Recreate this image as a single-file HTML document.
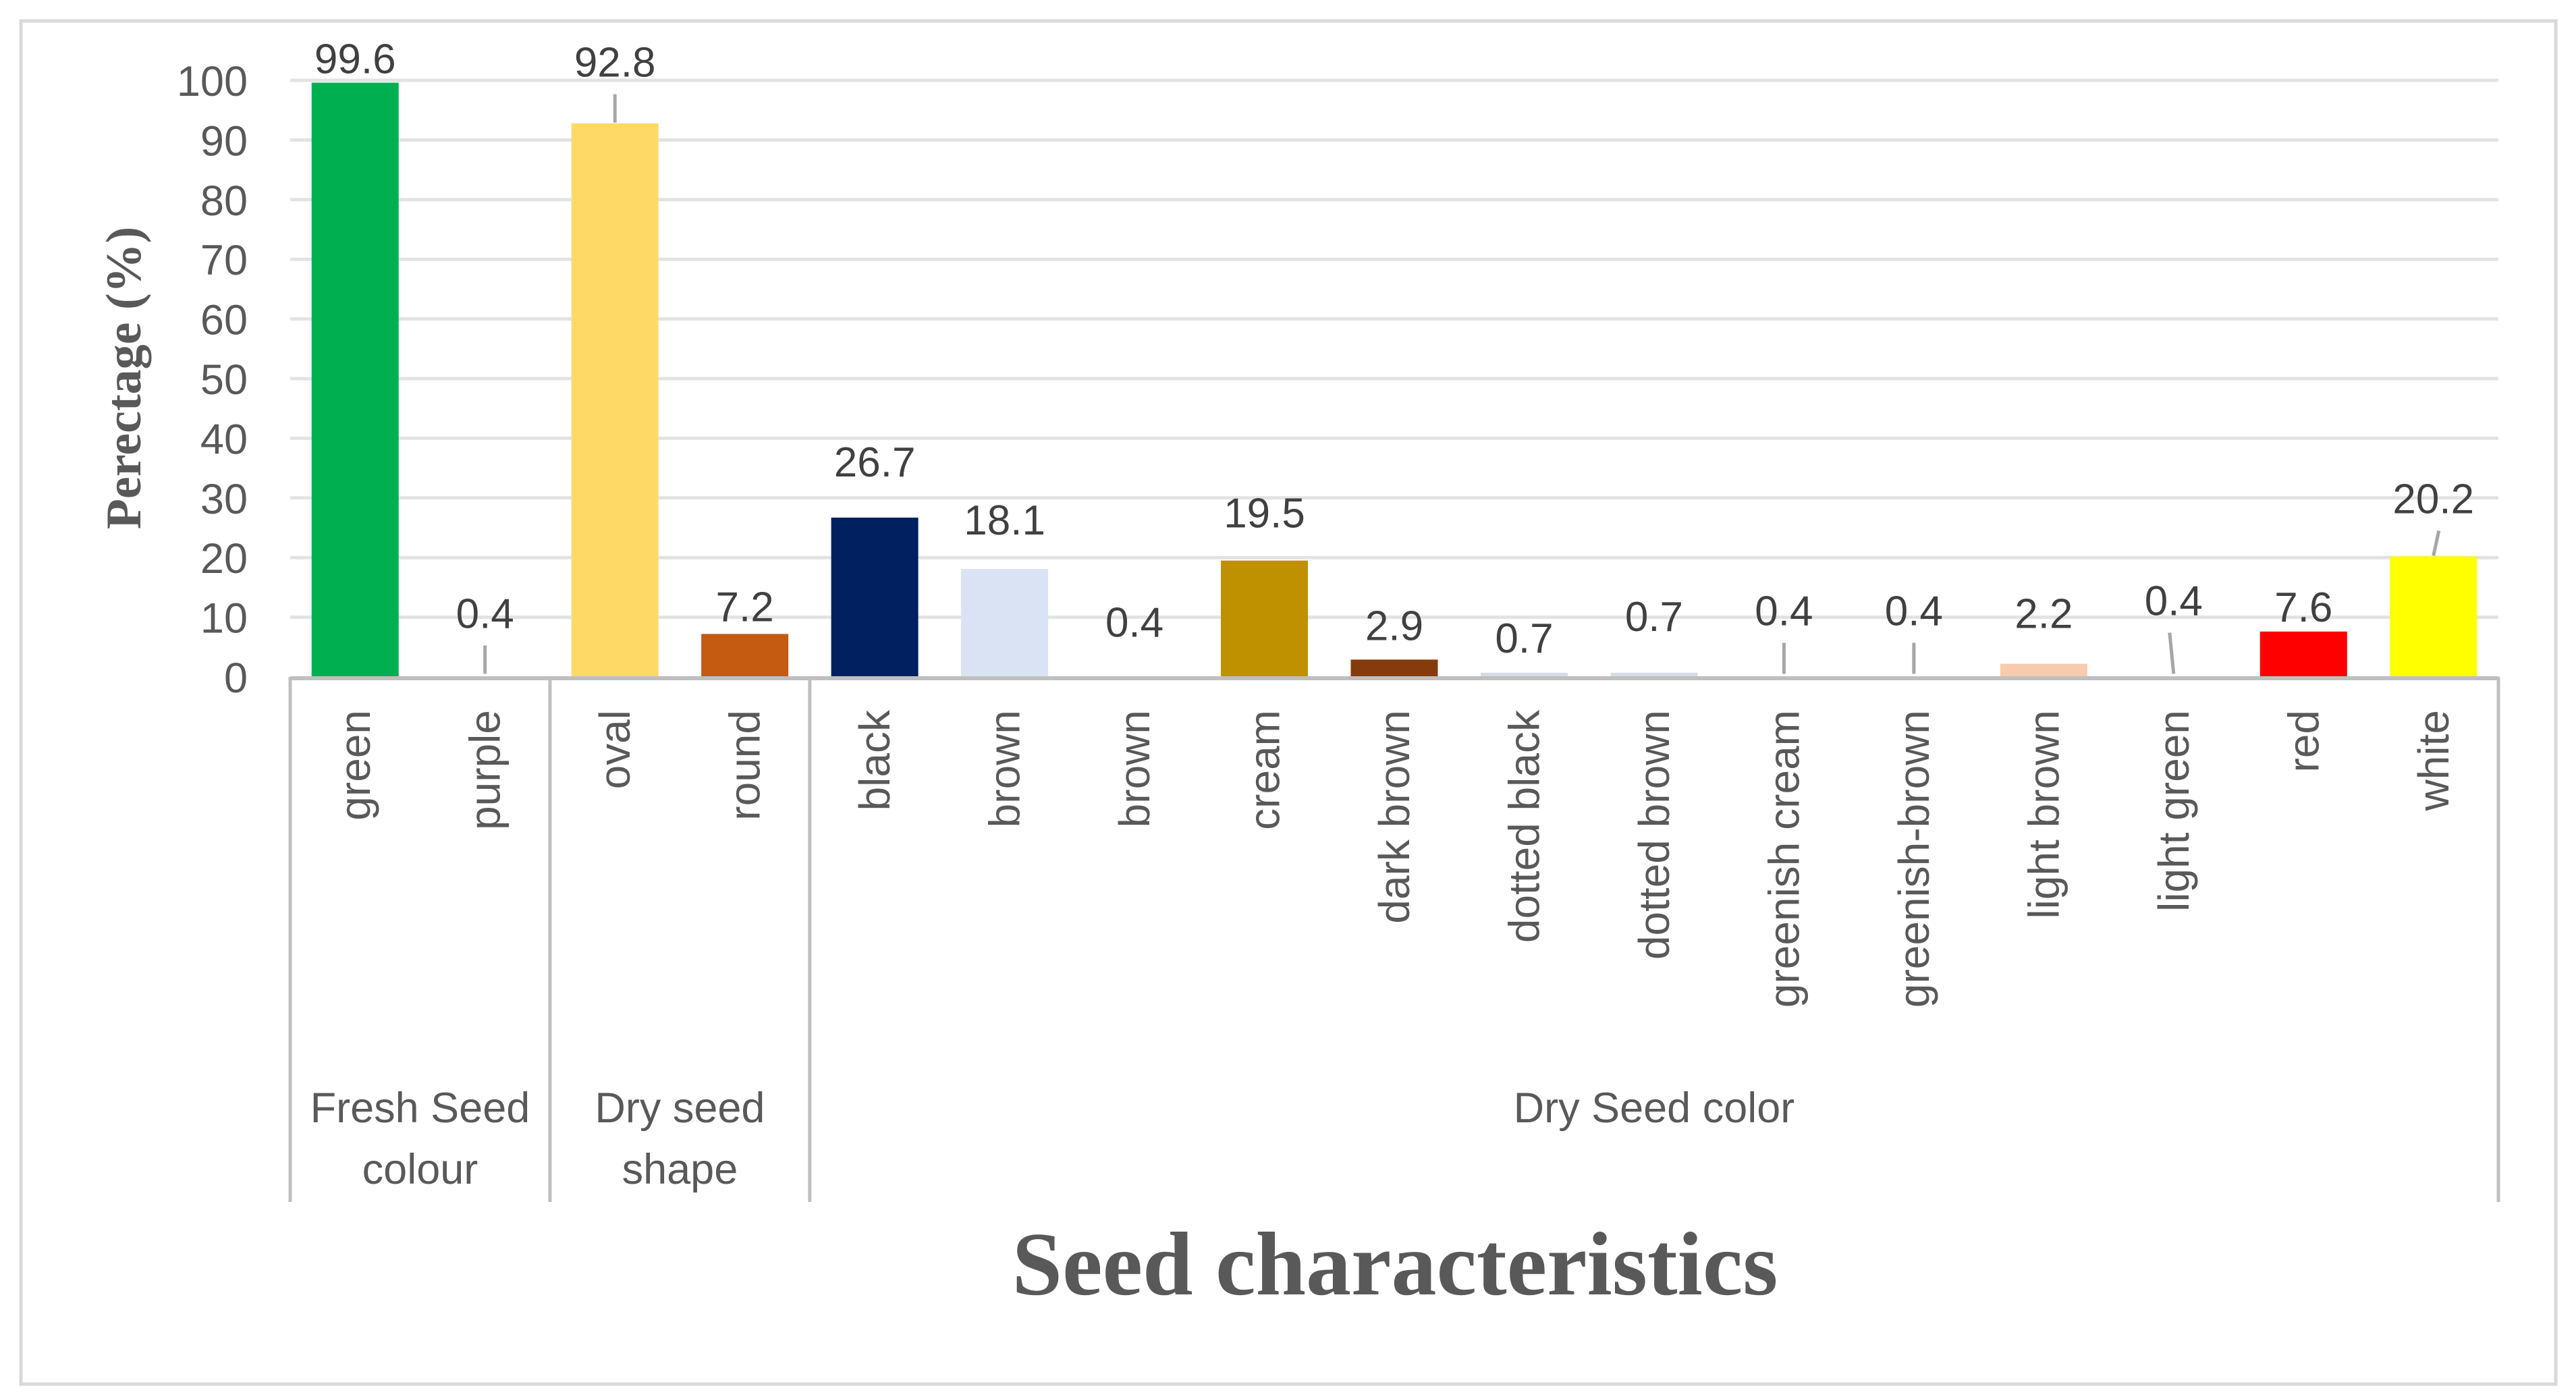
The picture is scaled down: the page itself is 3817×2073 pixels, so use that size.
<!DOCTYPE html>
<html><head><meta charset="utf-8"><style>
html,body{margin:0;padding:0;background:#fff;}
svg{display:block;}
</style></head><body>
<svg id="chart" width="3817" height="2073" viewBox="0 0 3817 2073" xmlns="http://www.w3.org/2000/svg">
<rect x="31" y="31" width="3756" height="2020" fill="#fff" stroke="#d9d9d9" stroke-width="5"/>
<g id="grid"></g><g id="bars"></g><g id="labels"></g><g id="axis"></g>
<text transform="translate(208,560) rotate(-90)" text-anchor="middle" font-family="Liberation Serif, serif" font-weight="bold" font-size="74" fill="#595959">Perectage (%)</text>
<text x="2067" y="1918" text-anchor="middle" font-family="Liberation Serif, serif" font-weight="bold" font-size="134" fill="#595959">Seed characteristics</text>
</svg>
<script>
const categories = ["green","purple","oval","round","black","brown","brown","cream","dark brown","dotted black","dotted brown","greenish cream","greenish-brown","light brown","light green","red","white"];
const values = [99.6,0.4,92.8,7.2,26.7,18.1,0.4,19.5,2.9,0.7,0.7,0.4,0.4,2.2,0.4,7.6,20.2];
const colors = ["#00b050","#ffffff","#ffd966","#c55a11","#002060","#dae3f3","#ffffff","#bf9000","#843c0c","#d6dce5","#d6dce5","#ffffff","#ffffff","#f8cbad","#ffffff","#ff0000","#ffff00"];
const groups = [["Fresh Seed","colour"],["Dry seed","shape"],["Dry Seed color"]];
const groupSizes = [2,2,13];
const yTicks = [0,10,20,30,40,50,60,70,80,90,100];
// label baseline offsets from bar top (style) and leader-line flags
const labelOffset = [-14,-69,-69,-19,-61,-51,-56,-49,-29,-30,-62,-73,-73,-53,-88,-15,-64];
const leader = [0,1,1,0,0,0,0,0,0,0,0,1,1,0,1,0,1];
const leaderSlant = [0,0,0,0,0,0,0,0,0,0,0,0,0,0,-6,0,8];

const NS="http://www.w3.org/2000/svg";
const left=430,right=3702,y0=1003,y100=119,axisBottom=1781;
const band=(right-left)/categories.length;
const xC=i=>left+band*(i+0.5);
const yS=v=>y0-(y0-y100)*v/100;
function mk(tag,attrs,parent,txt){const e=document.createElementNS(NS,tag);for(const k in attrs)e.setAttribute(k,attrs[k]);if(txt!==undefined)e.textContent=txt;parent.appendChild(e);return e;}
const font="Liberation Sans, sans-serif";
const grid=document.getElementById('grid'),bars=document.getElementById('bars'),labels=document.getElementById('labels'),axis=document.getElementById('axis');
yTicks.forEach(t=>{
  if(t>0){const l=mk('line',{x1:left,x2:right,y1:yS(t),y2:yS(t),stroke:'#e3e3e3','stroke-width':5},grid);
  
  }
  const tx=mk('text',{x:367,y:yS(t)+23,'text-anchor':'end','font-family':font,'font-size':63,fill:'#595959'},grid,String(t));
  
  
});
values.forEach((v,i)=>{
  const bw=129,top=yS(v);
  const r=mk('rect',{x:xC(i)-bw/2,y:top,width:bw,height:y0-top,fill:colors[i]},bars);
  
  
  const ly=top+labelOffset[i];
  const t=mk('text',{x:xC(i),y:ly,'text-anchor':'middle','font-family':font,'font-size':62,fill:'#404040'},labels,v.toFixed(1));
  
  
  if(leader[i]){
    const l=mk('line',{x1:xC(i)+leaderSlant[i],x2:xC(i),y1:ly+26,y2:top-1,stroke:'#a6a6a6','stroke-width':5},labels);
    
    
  }
  const c=mk('text',{transform:`translate(${xC(i)+22},1052) rotate(-90)`,'text-anchor':'end','font-family':font,'font-size':64,fill:'#595959'},axis,categories[i]);
  
  
});
const al=mk('line',{x1:left,x2:right,y1:y0+2,y2:y0+2,stroke:'#bfbfbf','stroke-width':6},axis);


let start=0;
const divs=[0];groupSizes.forEach(s=>{start+=s;divs.push(start);});
divs.forEach(d=>{
  const l=mk('line',{x1:left+band*d,x2:left+band*d,y1:y0,y2:axisBottom,stroke:'#bfbfbf','stroke-width':5},axis);
  
  
});
groups.forEach((g,gi)=>{
  const cx=left+band*(divs[gi]+divs[gi+1])/2;
  g.forEach((line,li)=>{
    const t=mk('text',{x:cx,y:1663+li*91,'text-anchor':'middle','font-family':font,'font-size':63,fill:'#595959'},axis,line);
    
    
  });
});
</script>
</body></html>
